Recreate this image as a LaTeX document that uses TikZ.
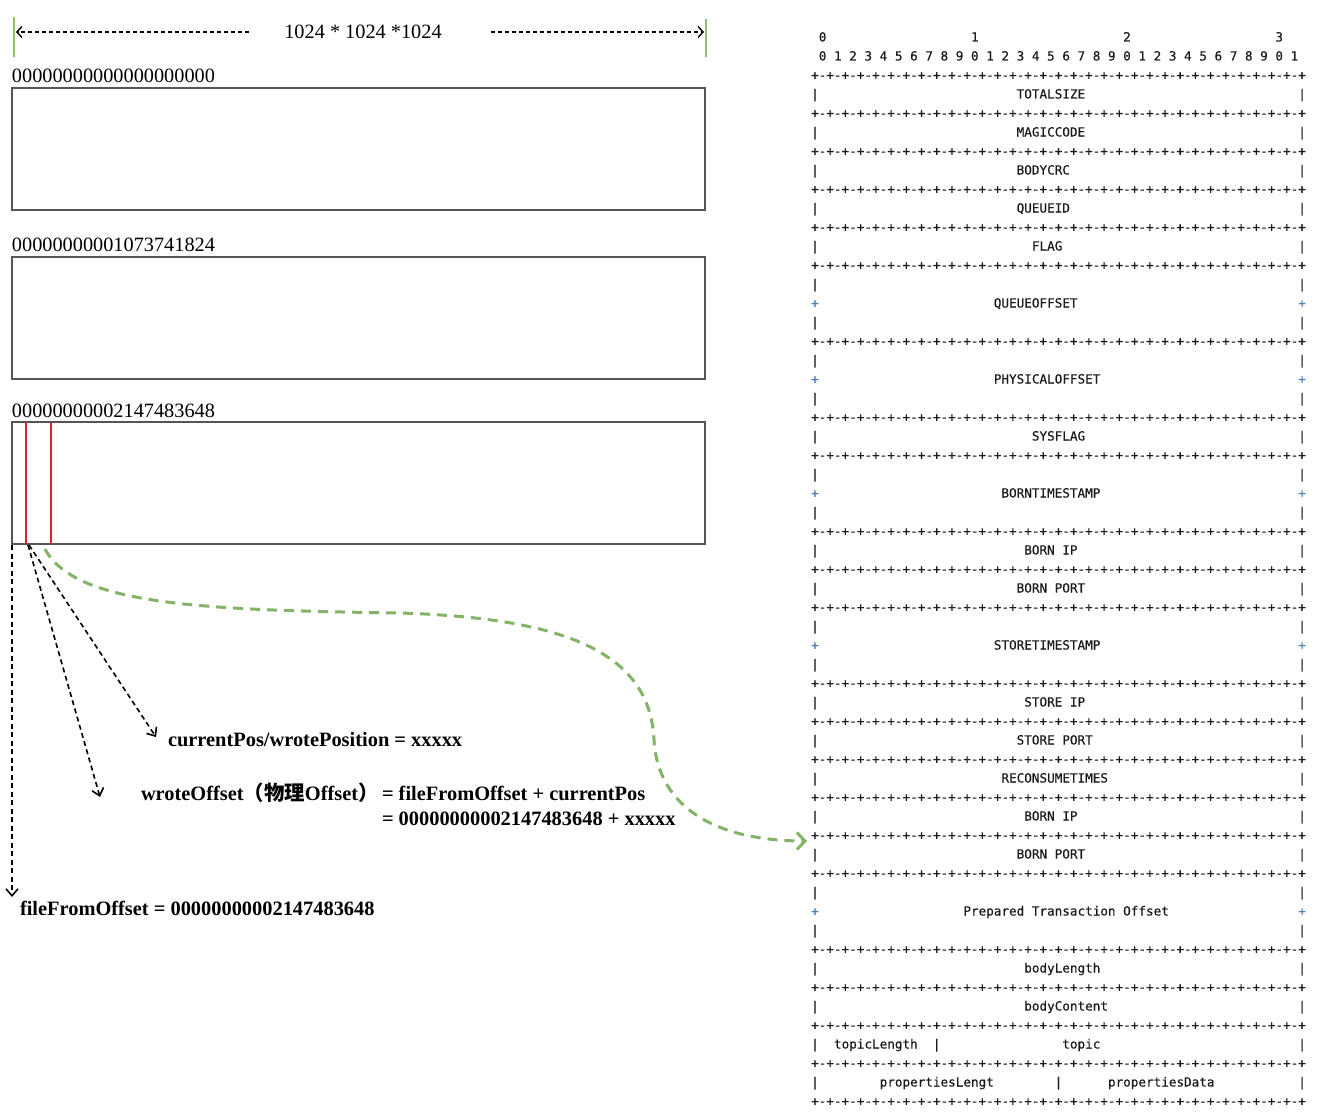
\documentclass[tikz,border=0pt]{standalone}
\usepackage{fontspec}
\setmainfont{Liberation Serif}
\newfontfamily\monofam[FakeBold=0.35]{DejaVu Sans Mono}
\newfontfamily\cjkfam{Noto Sans CJK SC}
\usetikzlibrary{arrows.meta}
\definecolor{boxgray}{HTML}{555555}
\definecolor{dimgreen}{HTML}{8CC36A}
\definecolor{curvegreen}{HTML}{82B366}
\definecolor{redline}{HTML}{D62828}
\definecolor{plusblue}{HTML}{4A7FC1}
\definecolor{asciiink}{HTML}{1A1A1A}
\def\fourpairs{+-+-+-+-}
\def\sepstr{\fourpairs\fourpairs\fourpairs\fourpairs\fourpairs\fourpairs\fourpairs\fourpairs+}
\tikzset{
  serifbig/.style={font=\fontsize{20.3}{24}\selectfont, inner sep=0pt, outer sep=0pt},
  boldlabel/.style={font=\fontsize{20.4}{24}\selectfont\bfseries, inner sep=0pt, outer sep=0pt, anchor=base west},
  memfile/.style={draw=boxgray, line width=2pt, inner sep=0pt, outer sep=0pt, anchor=north west, minimum width=693pt, minimum height=122pt},
  posline/.style={draw=redline, line width=1.5pt},
  dimline/.style={draw=dimgreen, line width=1.5pt},
  dimarrow/.style={draw=black, line width=1.4pt, dash pattern=on 4pt off 3pt, -{Straight Barb[length=5pt,width=11pt]}},
  ptrarrow/.style={draw=black, line width=1.6pt, dash pattern=on 5pt off 3.5pt, -{Straight Barb[length=7pt,width=12pt]}},
  maparrow/.style={draw=curvegreen, line width=3pt, dash pattern=on 10pt off 7pt, -{Straight Barb[length=8pt,width=17pt]}},
  ascii/.style={font=\monofam\fontsize{12.64}{19}\selectfont, text=asciiink, inner sep=0pt, outer sep=0pt, anchor=base west},
  asciiplus/.style={ascii, text=plusblue},
}
\begin{document}
\begin{tikzpicture}[x=1pt,y=-1pt]
\fill[white] (0,0) rectangle (1328,1116);
\useasboundingbox (0,0) rectangle (1328,1116);

% ---------- dimension line ----------
\draw[dimline] (14,17) -- (14,57);
\draw[dimline] (706,19) -- (706,57);
\node[serifbig] (dimtext) at (363,32) {1024 * 1024 *1024};
\coordinate (dimL) at (16,32);
\coordinate (dimR) at (704,32);
\draw[dimarrow] ([xshift=-35pt]dimtext.west) -- (dimL);
\draw[dimarrow] ([xshift=49pt]dimtext.east) -- (dimR);

% ---------- files ----------
\node[serifbig, anchor=base west] (lab0) at (12,83) {00000000000000000000};
\node[memfile] (file0) at (12,88) {};
\node[serifbig, anchor=base west] (lab1) at (12,251) {00000000001073741824};
\node[memfile] (file1) at (12,257) {};
\node[serifbig, anchor=base west] (lab2) at (12,417) {00000000002147483648};
\node[memfile] (file2) at (12,422) {};
\draw[posline] (26,422) -- (26,544);
\draw[posline] (51,422) -- (51,544);

% ---------- pointers ----------
\coordinate (vstart) at (12,545);
\coordinate (vend) at (12,897);
\coordinate (pstartA) at (28,545);
\coordinate (pstartB) at (29,545);
\coordinate (gstart) at (45,549);
\coordinate (gend) at (807,841);

\node[boldlabel] (curpos) at (168,746) {currentPos/wrotePosition = xxxxx};
\node[boldlabel] (wroteoff) at (141,800) {wroteOffset{\cjkfam （物理}Offset{\cjkfam ）}};
\node[boldlabel] (formulaA) at (382,800) {= fileFromOffset + currentPos};
\node[boldlabel] (formulaB) at (382,825) {= 00000000002147483648 + xxxxx};
\node[boldlabel] (filefrom) at (20,915) {fileFromOffset = 00000000002147483648};

\draw[ptrarrow] (vstart) -- (vend);
\draw[ptrarrow] (pstartA) -- (100,797);
\draw[ptrarrow] (pstartB) -- (156,737);
\draw[maparrow] (gstart) .. controls (75,605) and (200,610) .. (400,613)
   .. controls (560,618) and (650,650) .. (654,740)
   .. controls (658,810) and (720,841) .. (gend);

% ---------- ASCII message layout ----------
\node[ascii] (hd0) at ({811.2+7.61*1},41.5) {0};
\node[ascii] (hd1) at ({811.2+7.61*21},41.5) {1};
\node[ascii] (hd2) at ({811.2+7.61*41},41.5) {2};
\node[ascii] (hd3) at ({811.2+7.61*61},41.5) {3};
\foreach \k in {0,...,31} {
  \pgfmathtruncatemacro\dg{mod(\k,10)}
  \node[ascii] (bit\k) at ({811.2+7.61*(1+2*\k)},60.5) {\dg};
}
\foreach \n in {2,4,6,8,10,12,16,20,22,26,28,30,34,36,38,40,42,44,48,50,52,54,56} {
  \node[ascii] (sep\n) at (811.2,{37+19*\n+4.5}) {\sepstr};
}
\foreach \n in {3,5,...,55} {
  \node[ascii] (pl\n) at (811.2,{37+19*\n+4.5}) {|};
  \node[ascii] (pr\n) at ({811.2+7.61*64},{37+19*\n+4.5}) {|};
}
\foreach \n in {14,18,24,32,46} {
  \node[asciiplus] (ql\n) at (811.2,{37+19*\n+4.5}) {+};
  \node[asciiplus] (qr\n) at ({811.2+7.61*64},{37+19*\n+4.5}) {+};
}
\foreach \n/\c/\t [count=\i] in {
  3/27/TOTALSIZE, 5/27/MAGICCODE, 7/27/BODYCRC, 9/27/QUEUEID, 11/29/FLAG,
  14/24/QUEUEOFFSET, 18/24/PHYSICALOFFSET, 21/29/SYSFLAG, 24/25/BORNTIMESTAMP,
  27/28/BORN IP, 29/27/BORN PORT, 32/24/STORETIMESTAMP, 35/28/STORE IP,
  37/27/STORE PORT, 39/25/RECONSUMETIMES, 41/28/BORN IP, 43/27/BORN PORT,
  46/20/Prepared Transaction Offset, 49/28/bodyLength, 51/28/bodyContent,
  53/3/topicLength, 53/16/|, 53/33/topic,
  55/9/propertiesLengt, 55/32/|, 55/39/propertiesData} {
  \node[ascii] (fld\i) at ({811.2+7.61*\c},{37+19*\n+4.5}) {\t};
}
\end{tikzpicture}
\end{document}
